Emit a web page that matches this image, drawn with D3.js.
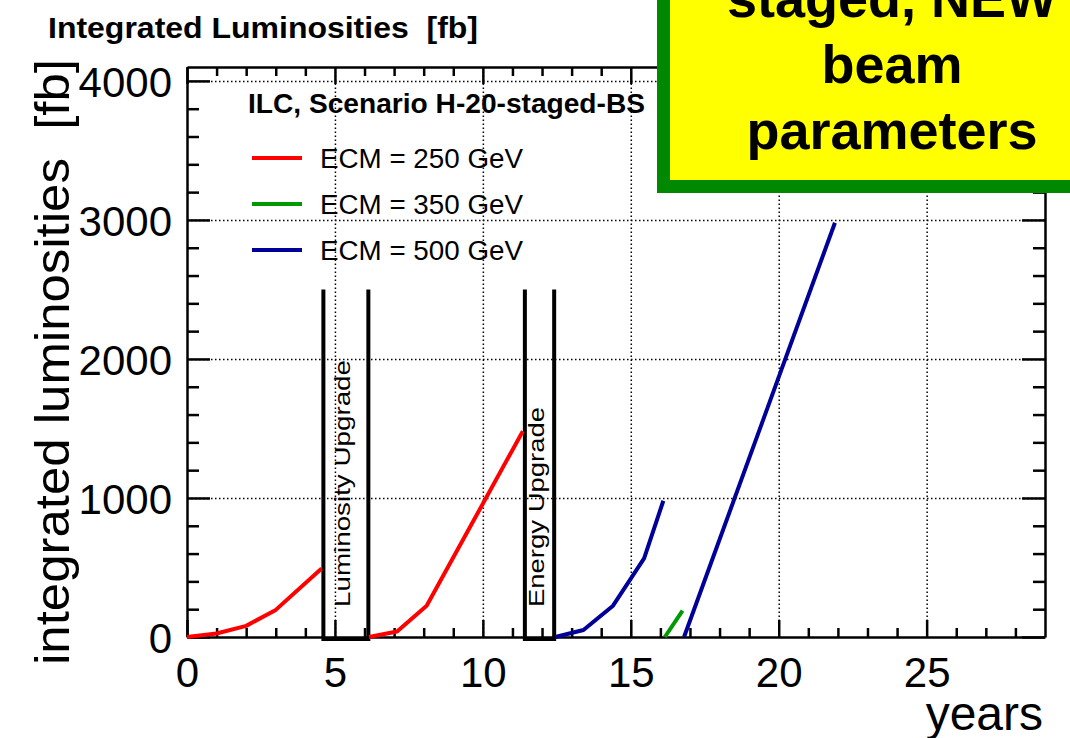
<!DOCTYPE html>
<html>
<head>
<meta charset="utf-8">
<script src="https://cdn.jsdelivr.net/npm/d3@7"></script>
<style>
  body { margin: 0; background: #fff; }
  svg { display: block; }
  text { font-family: "Liberation Sans", Arial, Helvetica, sans-serif; fill: #000; white-space: pre; }
</style>
</head>
<body>
<svg id="chart" width="1070" height="738"></svg>
<script>
// Axis ticks and labels
const xMajorTicks = [0, 5, 10, 15, 20, 25];
const yMajorTicks = [0, 1000, 2000, 3000, 4000];
const xDomain = [0, 29];
const yDomain = [0, 4100];

// Integrated luminosity [fb] versus years, one array per running period
const lumi250a = [[0, 0], [1, 25], [2, 80], [3, 195], [4.55, 493]];
const lumi250b = [[6.15, 0], [7.1, 40], [8.1, 225], [11.35, 1480]];
const lumi500a = [[12.45, 0], [13.4, 50], [14.4, 225], [15.45, 565], [16.1, 980]];
const lumi350 = [[16.15, 0], [16.75, 190]];
const lumi500b = [[16.8, 0], [21.9, 2980]];

// Shutdown periods (years) and the height of their markers [fb]
const upgradeNames = ["Luminosity Upgrade", "Energy Upgrade"];
const upgradeStart = [4.61, 11.42];
const upgradeEnd = [6.13, 12.41];
const upgradeHeight = 2500;

// Legend
const legendTitle = "ILC, Scenario H-20-staged-BS";
const legendNames = ["ECM = 250 GeV", "ECM = 350 GeV", "ECM = 500 GeV"];
const legendColors = ["#ff0000", "#009900", "#000099"];

const svg = d3.select("#chart");
const L = 187, R = 1045, T = 67, B = 637;
const x = d3.scaleLinear().domain(xDomain).range([L, R]);
const y = d3.scaleLinear().domain(yDomain).range([B, T]);

const xMinor = d3.range(1, 29, 1).filter(v => v % 5 !== 0);
const yMinor = d3.range(200, 4100, 200).filter(v => v % 1000 !== 0);

// dotted grid at the major ticks
svg.append("g").attr("transform", `translate(0,${B})`)
  .call(d3.axisBottom(x).tickValues(xMajorTicks.filter(v => v > 0)).tickSize(-(B - T)).tickFormat(""))
  .call(g => g.select(".domain").remove())
  .selectAll("line").attr("stroke", "#000").attr("stroke-width", 1.5).attr("stroke-dasharray", "1.5,2.5");
svg.append("g").attr("transform", `translate(${L},0)`)
  .call(d3.axisLeft(y).tickValues(yMajorTicks.filter(v => v > 0)).tickSize(-(R - L)).tickFormat(""))
  .call(g => g.select(".domain").remove())
  .selectAll("line").attr("stroke", "#000").attr("stroke-width", 1.5).attr("stroke-dasharray", "1.5,2.5");

function styleAxis(g) {
  g.select(".domain").attr("stroke", "#000").attr("stroke-width", 2.5);
  g.selectAll(".tick line").attr("stroke", "#000").attr("stroke-width", 2.5);
}

// bottom axis
svg.append("g").attr("transform", `translate(0,${B})`)
  .call(d3.axisBottom(x).tickValues(xMinor).tickSize(-9).tickFormat(""))
  .call(g => g.select(".domain").remove())
  .call(styleAxis);
const gx = svg.append("g").attr("transform", `translate(0,${B})`)
  .call(d3.axisBottom(x).tickValues(xMajorTicks).tickSizeInner(-17).tickSizeOuter(0).tickPadding(20).tickFormat(d3.format("d")))
  .call(styleAxis);
gx.selectAll("text").attr("font-size", 42).attr("font-family", null);

// top axis
svg.append("g").attr("transform", `translate(0,${T})`)
  .call(d3.axisTop(x).tickValues(xMinor).tickSize(-9).tickFormat(""))
  .call(g => g.select(".domain").remove())
  .call(styleAxis);
svg.append("g").attr("transform", `translate(0,${T})`)
  .call(d3.axisTop(x).tickValues(xMajorTicks).tickSizeInner(-17).tickSizeOuter(0).tickFormat(""))
  .call(styleAxis);

// left axis
svg.append("g").attr("transform", `translate(${L},0)`)
  .call(d3.axisLeft(y).tickValues(yMinor).tickSize(-12).tickFormat(""))
  .call(g => g.select(".domain").remove())
  .call(styleAxis);
const gy = svg.append("g").attr("transform", `translate(${L},0)`)
  .call(d3.axisLeft(y).tickValues(yMajorTicks).tickSizeInner(-23).tickSizeOuter(0).tickPadding(15).tickFormat(d3.format("d")))
  .call(styleAxis);
gy.selectAll("text").attr("font-size", 42).attr("font-family", null).attr("dy", "0.37em");

// right axis
svg.append("g").attr("transform", `translate(${R},0)`)
  .call(d3.axisRight(y).tickValues(yMinor).tickSize(-12).tickFormat(""))
  .call(g => g.select(".domain").remove())
  .call(styleAxis);
svg.append("g").attr("transform", `translate(${R},0)`)
  .call(d3.axisRight(y).tickValues(yMajorTicks).tickSizeInner(-23).tickSizeOuter(0).tickFormat(""))
  .call(styleAxis);

// shutdown markers
const line = d3.line().x(d => x(d[0])).y(d => y(d[1]));
upgradeNames.forEach((name, i) => {
  const s = upgradeStart[i], e = upgradeEnd[i];
  svg.append("path")
    .attr("d", line([[s, upgradeHeight], [s, -15], [e, -15], [e, upgradeHeight]]))
    .attr("fill", "none").attr("stroke", "#000").attr("stroke-width", 4);
  const cx = (x(s) + x(e)) / 2 + 4;
  svg.append("text")
    .attr("transform", `translate(${cx},${B - 30}) rotate(-90)`)
    .attr("font-size", 22)
    .attr("textLength", i === 0 ? 247 : 200)
    .attr("lengthAdjust", "spacingAndGlyphs")
    .text(name);
});

// luminosity curves
const curves = [
  { data: lumi250a, color: legendColors[0] },
  { data: lumi250b, color: legendColors[0] },
  { data: lumi500a, color: legendColors[2] },
  { data: lumi350, color: legendColors[1] },
  { data: lumi500b, color: legendColors[2] }
];
curves.forEach(c => {
  svg.append("path").attr("d", line(c.data))
    .attr("fill", "none").attr("stroke", c.color).attr("stroke-width", 4)
    .attr("stroke-linejoin", "round");
});

// legend
svg.append("text").attr("x", 248).attr("y", 113)
  .attr("font-size", 27).attr("font-weight", "bold")
  .attr("textLength", 397).attr("lengthAdjust", "spacingAndGlyphs")
  .text(legendTitle);
legendNames.forEach((name, i) => {
  const ly = 158 + i * 46;
  svg.append("line").attr("x1", 252).attr("x2", 302).attr("y1", ly).attr("y2", ly)
    .attr("stroke", legendColors[i]).attr("stroke-width", 4);
  svg.append("text").attr("x", 320).attr("y", ly + 9.5)
    .attr("font-size", 27)
    .attr("textLength", 203).attr("lengthAdjust", "spacingAndGlyphs")
    .text(name);
});

// titles
svg.append("text").attr("x", 48).attr("y", 38)
  .attr("font-size", 30).attr("font-weight", "bold")
  .attr("textLength", 430).attr("lengthAdjust", "spacingAndGlyphs")
  .text("Integrated Luminosities\u00a0\u00a0[fb]");
svg.append("text")
  .attr("transform", `translate(69,665) rotate(-90)`)
  .attr("font-size", 48)
  .attr("textLength", 606).attr("lengthAdjust", "spacingAndGlyphs")
  .text("integrated luminosities\u00a0\u00a0[fb]");
svg.append("text").attr("x", 1043).attr("y", 730)
  .attr("font-size", 48).attr("text-anchor", "end")
  .text("years");

// highlighted note box
const note = svg.append("g");
note.append("rect").attr("x", 657).attr("y", -20).attr("width", 440).attr("height", 213).attr("fill", "#008800");
note.append("rect").attr("x", 670).attr("y", -20).attr("width", 440).attr("height", 200).attr("fill", "#ffff00");
["staged, NEW", "beam", "parameters"].forEach((t, i) => {
  note.append("text").attr("x", 892).attr("y", 17 + i * 66)
    .attr("font-size", 54).attr("font-weight", "bold").attr("text-anchor", "middle")
    .text(t);
});
</script>
</body>
</html>
